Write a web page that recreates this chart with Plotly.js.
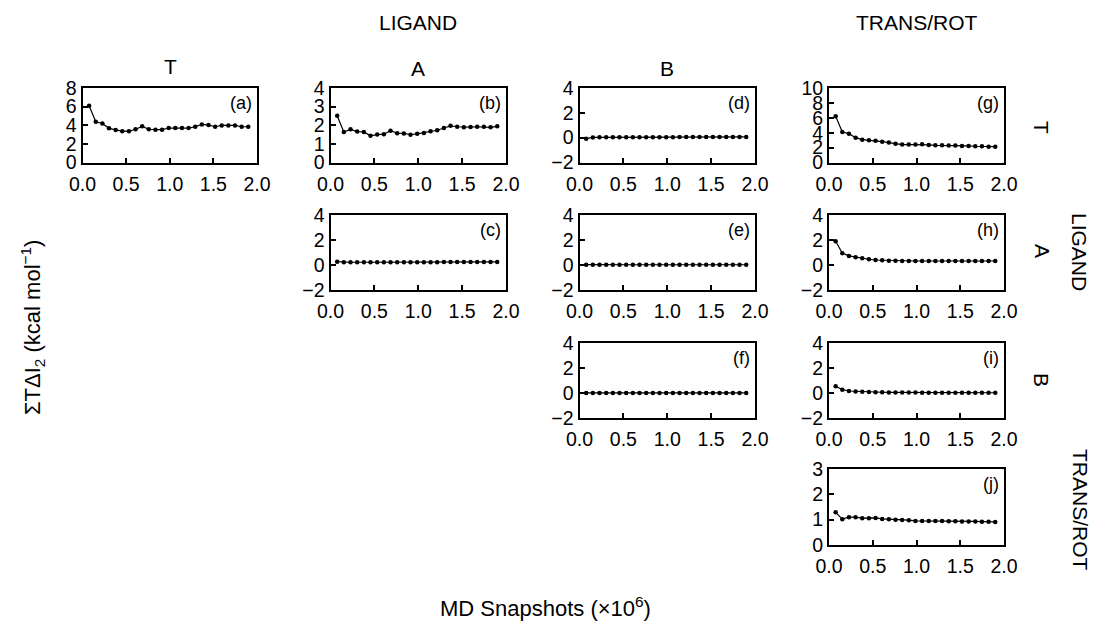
<!DOCTYPE html>
<html>
<head>
<meta charset="utf-8">
<script src="https://cdn.plot.ly/plotly-3.0.1.min.js"></script>
<style>html,body{margin:0;padding:0;background:#fff}#chart{width:1094px;height:625px}</style>
</head>
<body>
<div id="chart"></div>
<script>
// MD snapshots (x10^6)
const snapshots = [0.076,0.152,0.228,0.304,0.38,0.456,0.532,0.608,0.684,0.76,0.836,0.912,0.988,1.064,1.14,1.216,1.292,1.368,1.444,1.52,1.596,1.672,1.748,1.824,1.9];

// Panel series (kcal/mol)
const seriesA = [6.1,4.37,4.19,3.67,3.5,3.36,3.36,3.57,3.88,3.57,3.53,3.53,3.7,3.7,3.7,3.7,3.84,4.09,4.02,3.84,3.98,3.98,3.98,3.84,3.84];
const seriesB = [2.51,1.64,1.78,1.66,1.64,1.43,1.5,1.52,1.71,1.57,1.56,1.49,1.54,1.59,1.68,1.73,1.85,1.97,1.92,1.89,1.9,1.92,1.92,1.89,1.94];
const seriesC = [0.27,0.22,0.22,0.22,0.22,0.22,0.22,0.22,0.22,0.22,0.22,0.22,0.23,0.23,0.23,0.23,0.24,0.24,0.25,0.25,0.25,0.25,0.25,0.25,0.25];
const seriesD = [-0.08,0.02,0.03,0.03,0.03,0.03,0.03,0.03,0.04,0.04,0.04,0.04,0.04,0.04,0.05,0.05,0.05,0.05,0.05,0.06,0.06,0.06,0.06,0.06,0.06];
const seriesE = [0.03,0.02,0.02,0.02,0.02,0.02,0.02,0.02,0.02,0.02,0.02,0.02,0.02,0.02,0.02,0.02,0.02,0.02,0.02,0.02,0.02,0.02,0.02,0.02,0.02];
const seriesF = [0.01,0.01,0.01,0.01,0.01,0.01,0.01,0.01,0.01,0.01,0.01,0.01,0.01,0.01,0.01,0.01,0.01,0.01,0.01,0.01,0.01,0.01,0.01,0.01,0.01];
const seriesG = [6.2,4.1,3.87,3.33,3.07,3.0,2.93,2.8,2.67,2.53,2.4,2.4,2.4,2.44,2.36,2.31,2.31,2.27,2.27,2.22,2.22,2.18,2.18,2.13,2.13];
const seriesH = [1.9,0.95,0.73,0.62,0.54,0.46,0.4,0.38,0.35,0.34,0.33,0.32,0.32,0.32,0.32,0.32,0.32,0.32,0.32,0.32,0.32,0.32,0.32,0.32,0.32];
const seriesI = [0.54,0.27,0.16,0.13,0.1,0.08,0.07,0.06,0.05,0.05,0.04,0.04,0.04,0.03,0.03,0.03,0.03,0.03,0.02,0.02,0.02,0.02,0.02,0.02,0.02];
const seriesJ = [1.29,1.02,1.1,1.1,1.06,1.06,1.07,1.03,1.02,1.0,0.99,0.98,0.95,0.95,0.95,0.95,0.95,0.94,0.94,0.93,0.93,0.93,0.92,0.92,0.91];

const panelLabels = ['(a)','(b)','(c)','(d)','(e)','(f)','(g)','(h)','(i)','(j)'];
const panelSeries = [seriesA,seriesB,seriesC,seriesD,seriesE,seriesF,seriesG,seriesH,seriesI,seriesJ];
const colHeaders = ['T','A','B'];
const groupHeaders = ['LIGAND','TRANS/ROT'];
const rowHeaders = ['T','A','B'];
const xTitle = 'MD Snapshots (×10<sup>6</sup>)';
const yTitle = 'ΣTΔI<sub>2</sub> (kcal mol<sup>−1</sup>)';

// layout geometry (page pixels)
const W = 1094, H = 625;
const cols = [[82.5,257],[330.5,506],[579.5,755],[829,1004]];
const rows = [[88,162.5],[215,290],[343,418],[469,545]];
// panel placement: [col,row, yrange, ydtick]
const panelPos = [
  [0,0,[0,8],2],   // a
  [1,0,[0,4],1],   // b
  [1,1,[-2,4],2],  // c
  [2,0,[-2,4],2],  // d
  [2,1,[-2,4],2],  // e
  [2,2,[-2,4],2],  // f
  [3,0,[0,10],2],  // g
  [3,1,[-2,4],2],  // h
  [3,2,[-2,4],2],  // i
  [3,3,[0,3],1]    // j
];
const FONT = 'Liberation Sans, Arial, Helvetica, sans-serif';
const px = x => x / W;
const py = y => 1 - y / H;

const data = [];
const layout = {
  width: W, height: H,
  margin: {l:0, r:0, t:0, b:0},
  paper_bgcolor: '#fff', plot_bgcolor: '#fff',
  showlegend: false,
  font: {family: FONT, color: '#000', size: 18},
  annotations: []
};

panelPos.forEach((p, i) => {
  const n = i === 0 ? '' : String(i + 1);
  const [c, r, yr, dt] = p;
  data.push({
    x: snapshots, y: panelSeries[i],
    xaxis: 'x' + n, yaxis: 'y' + n,
    type: 'scatter', mode: 'lines+markers',
    line: {color: '#000', width: 1.2},
    marker: {color: '#000', size: 4.5},
    hoverinfo: 'x+y'
  });
  const common = {
    showgrid: false, zeroline: false, showline: true, mirror: true,
    linecolor: '#000', linewidth: 2,
    ticks: 'inside', ticklen: 5, tickwidth: 2, tickcolor: '#000',
    tickfont: {family: FONT, size: 19.5, color: '#000'},
    fixedrange: true
  };
  layout['xaxis' + n] = Object.assign({}, common, {
    domain: [px(cols[c][0]), px(cols[c][1])],
    anchor: 'y' + n, range: [0, 2], tick0: 0, dtick: 0.5, tickformat: '.1f',
    ticklabelstandoff: 3
  });
  layout['yaxis' + n] = Object.assign({}, common, {
    domain: [py(rows[r][1]), py(rows[r][0])],
    anchor: 'x' + n, range: yr, tick0: 0, dtick: dt
  });
  layout.annotations.push({
    xref: 'paper', yref: 'paper',
    x: px(cols[c][1] - 3), y: py(rows[r][0] + 15),
    xanchor: 'right', yanchor: 'middle',
    text: panelLabels[i], showarrow: false,
    font: {family: FONT, size: 18, color: '#000'}
  });
});

const ann = (text, x, y, angle, size) => layout.annotations.push({
  xref: 'paper', yref: 'paper', x: px(x), y: py(y),
  xanchor: 'center', yanchor: 'middle', text: text, showarrow: false,
  textangle: angle || 0, font: {family: FONT, size: size || 21, color: '#000'}
});

// column headers
ann(colHeaders[0], 170, 66);
ann(colHeaders[1], 418, 68);
ann(colHeaders[2], 667, 68);
ann(groupHeaders[0], 418, 22);
ann(groupHeaders[1], 917, 22);
// row headers
ann(rowHeaders[0], 1042, 127, 90);
ann(rowHeaders[1], 1042, 251, 90);
ann(rowHeaders[2], 1042, 380, 90);
ann(groupHeaders[0], 1080, 252, 90);
ann(groupHeaders[1], 1080, 510, 90);
// axis titles
ann(yTitle, 32, 328, -90, 22);
ann(xTitle, 545, 607, 0, 22);

Plotly.newPlot('chart', data, layout, {displayModeBar: false, staticPlot: true});
</script>
</body>
</html>
